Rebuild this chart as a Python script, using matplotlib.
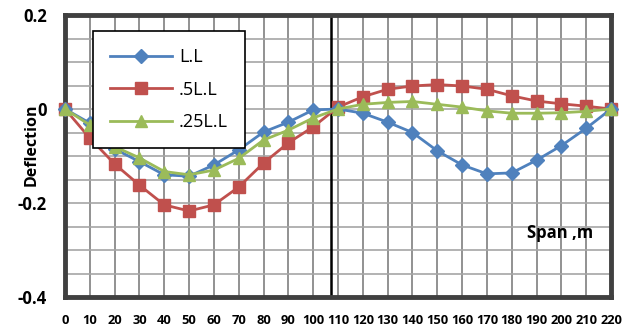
import matplotlib
matplotlib.use("Agg")
import matplotlib.pyplot as plt
import numpy as np

plt.rcParams['font.family'] = ['Open Sans', 'DejaVu Sans']

span = list(range(0, 230, 10))
ll = [0, -0.03, -0.085, -0.112, -0.14, -0.143, -0.119, -0.087, -0.049, -0.028, -0.002,
      0, -0.009, -0.028, -0.05, -0.089, -0.119, -0.138, -0.136, -0.109, -0.078, -0.041, 0]
half_ll = [0, -0.062, -0.117, -0.162, -0.204, -0.217, -0.204, -0.166, -0.115, -0.072, -0.038,
           0.004, 0.026, 0.042, 0.049, 0.052, 0.049, 0.042, 0.028, 0.017, 0.011, 0.006, 0]
quarter_ll = [0, -0.034, -0.08, -0.104, -0.133, -0.14, -0.13, -0.105, -0.066, -0.045, -0.019,
              0, 0.01, 0.014, 0.016, 0.01, 0.004, -0.004, -0.009, -0.009, -0.008, -0.005, 0]

fig = plt.figure(figsize=(6.37, 3.28), dpi=100)
ax = fig.add_axes([65/637, 1-297/328, (611-65)/637, (297-15)/328])

ax.plot(span, ll, color='#4F81BD', lw=2, marker='D', ms=7, label='L.L', clip_on=False, zorder=5)
ax.plot(span, half_ll, color='#C0504D', lw=2, marker='s', ms=8, label='.5L.L', clip_on=False, zorder=4)
ax.plot(span, quarter_ll, color='#9BBB59', lw=2, marker='^', ms=9, label='.25L.L', clip_on=False, zorder=6)

ax.set_xlim(0, 220)
ax.set_ylim(-0.4, 0.2)
ax.set_xticks(span)
ax.set_xticklabels([str(s) for s in span], fontsize=9.3, fontweight='bold')
ax.set_yticks([-0.4, -0.2, 0, 0.2])
ax.set_yticklabels(['-0.4', '-0.2', '0', '0.2'], fontsize=12, fontweight='bold')
ax.set_yticks(np.arange(-0.4, 0.21, 0.05), minor=True)
ax.tick_params(axis='both', which='both', length=0)
ax.tick_params(axis='x', pad=12)
ax.tick_params(axis='y', pad=13)

for s in span:
    ax.axvline(s, color='#7f7f7f', lw=1.2, zorder=1)
for v in np.arange(-0.4, 0.21, 0.05):
    ax.axhline(v, color='#a6a6a6', lw=1.2, zorder=1)
ax.axvline(107, color='black', lw=1.8, zorder=2)

for sp in ax.spines.values():
    sp.set_color('#404040')
    sp.set_linewidth(3.5)

ax.set_ylabel('Deflection', fontsize=11.5, fontweight='bold')
ax.yaxis.set_label_coords(-0.046, 0.54)
ax.text(186, -0.264, 'Span ,m', fontsize=12, fontweight='bold', va='center', zorder=7)

leg = ax.legend(loc='upper left', bbox_to_anchor=(93/637, 1-31/328), bbox_transform=fig.transFigure,
                fancybox=False, framealpha=1, edgecolor='black', fontsize=13,
                handlelength=3.45, labelspacing=0.8, borderpad=0.95, handletextpad=0.35,
                borderaxespad=0)
leg.get_frame().set_linewidth(1.2)
leg.set_zorder(10)

fig.savefig('out.png', dpi=100)
